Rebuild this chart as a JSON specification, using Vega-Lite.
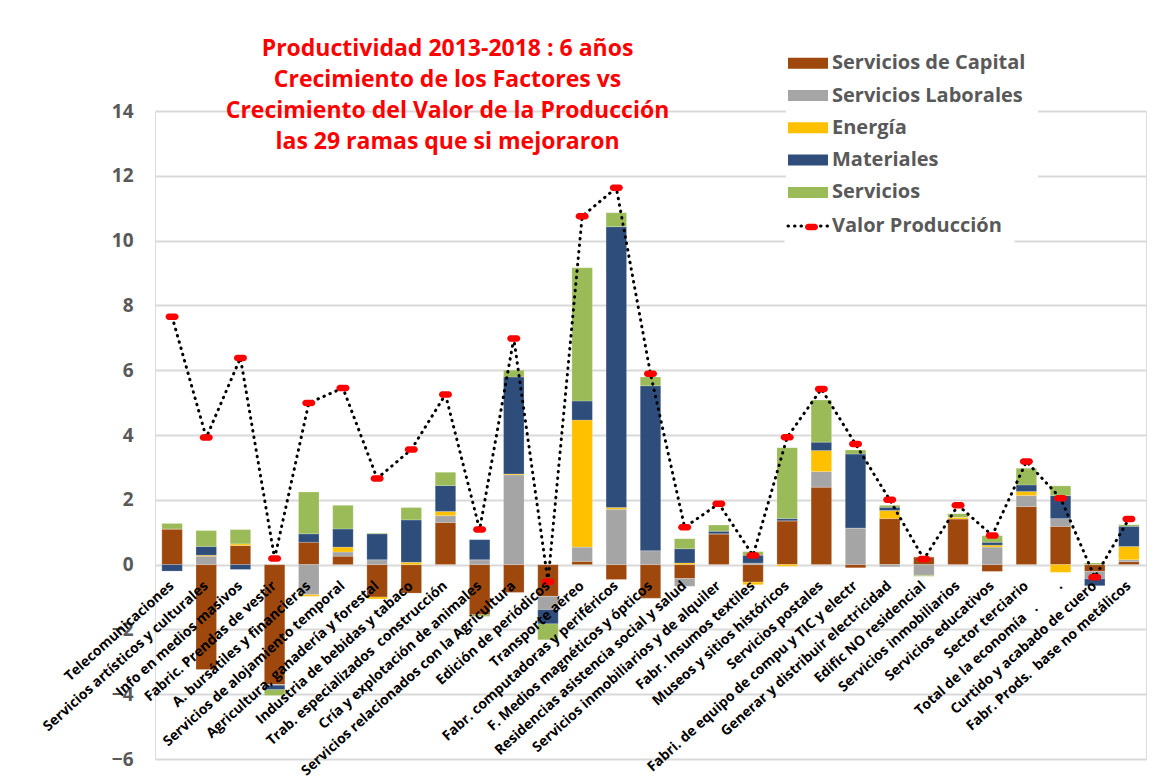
{
  "$schema": "https://vega.github.io/schema/vega-lite/v6.json",
  "width": 991,
  "height": 648,
  "autosize": {"type": "none"},
  "padding": {"left": 155, "top": 111, "right": 10, "bottom": 20},
  "background": "white",
  "title": {
    "text": ["Productividad 2013-2018 : 6 años", "Crecimiento de los Factores vs", "Crecimiento del Valor de la Producción", "las 29 ramas que si mejoraron"],
    "color": "#FF0000",
    "font": "Open Sans",
    "fontSize": 23,
    "fontWeight": "bold",
    "lineHeight": 31,
    "anchor": "middle",
    "dx": -203,
    "dy": 113,
    "offset": 0
  },
  "data": {
    "values": [
      {"rama": "Telecomunicaciones", "Servicios de Capital": 1.10, "Servicios Laborales": 0, "Energía": 0, "Materiales": -0.20, "Servicios": 0.17, "vp": 7.65},
      {"rama": "Servicios artísticos y culturales", "Servicios de Capital": -3.24, "Servicios Laborales": 0.26, "Energía": 0.03, "Materiales": 0.27, "Servicios": 0.49, "vp": 3.92},
      {"rama": "Info en medios masivos", "Servicios de Capital": 0.59, "Servicios Laborales": 0, "Energía": 0.05, "Materiales": -0.15, "Servicios": 0.44, "vp": 6.38},
      {"rama": "Fabric. Prendas de vestir", "Servicios de Capital": -3.70, "Servicios Laborales": -0.02, "Energía": 0, "Materiales": -0.14, "Servicios": -0.18, "vp": 0.19},
      {"rama": "A. bursátiles y financieras", "Servicios de Capital": 0.69, "Servicios Laborales": -0.93, "Energía": -0.05, "Materiales": 0.26, "Servicios": 1.29, "vp": 4.99},
      {"rama": "Servicios de alojamiento temporal", "Servicios de Capital": 0.26, "Servicios Laborales": 0.13, "Energía": 0.15, "Materiales": 0.56, "Servicios": 0.73, "vp": 5.45},
      {"rama": "Agricultura, ganadería y forestal", "Servicios de Capital": -1.00, "Servicios Laborales": 0.15, "Energía": -0.06, "Materiales": 0.80, "Servicios": 0.02, "vp": 2.66},
      {"rama": "Industria de bebidas y tabaco", "Servicios de Capital": -0.88, "Servicios Laborales": 0, "Energía": 0.07, "Materiales": 1.31, "Servicios": 0.38, "vp": 3.55},
      {"rama": "Trab. especializados \u00a0construcción", "Servicios de Capital": 1.30, "Servicios Laborales": 0.21, "Energía": 0.13, "Materiales": 0.80, "Servicios": 0.41, "vp": 5.25},
      {"rama": "Cría y explotación de animales", "Servicios de Capital": -1.55, "Servicios Laborales": 0.15, "Energía": 0, "Materiales": 0.62, "Servicios": -0.05, "vp": 1.08},
      {"rama": "Servicios relacionados con la Agricultura", "Servicios de Capital": -0.86, "Servicios Laborales": 2.77, "Energía": 0.03, "Materiales": 2.99, "Servicios": 0.21, "vp": 6.98},
      {"rama": "Edición de periódicos", "Servicios de Capital": -0.98, "Servicios Laborales": -0.41, "Energía": 0, "Materiales": -0.44, "Servicios": -0.49, "vp": -0.53},
      {"rama": "Transporte aéreo", "Servicios de Capital": 0.10, "Servicios Laborales": 0.44, "Energía": 3.92, "Materiales": 0.59, "Servicios": 4.11, "vp": 10.75},
      {"rama": "Fabr. computadoras y periféricos", "Servicios de Capital": -0.46, "Servicios Laborales": 1.71, "Energía": 0.05, "Materiales": 8.67, "Servicios": 0.43, "vp": 11.63},
      {"rama": "F. Medios magnéticos y ópticos", "Servicios de Capital": -1.04, "Servicios Laborales": 0.43, "Energía": 0, "Materiales": 5.09, "Servicios": 0.27, "vp": 5.89},
      {"rama": "Residencias asistencia social y salud", "Servicios de Capital": -0.43, "Servicios Laborales": -0.24, "Energía": 0.05, "Materiales": 0.44, "Servicios": 0.31, "vp": 1.15},
      {"rama": "Servicios inmobiliarios y de alquiler", "Servicios de Capital": 0.95, "Servicios Laborales": 0, "Energía": 0, "Materiales": 0.08, "Servicios": 0.19, "vp": 1.88},
      {"rama": "Fabr. Insumos textiles", "Servicios de Capital": -0.54, "Servicios Laborales": 0.05, "Energía": -0.08, "Materiales": 0.24, "Servicios": 0.11, "vp": 0.28},
      {"rama": "Museos y sitios históricos", "Servicios de Capital": 1.35, "Servicios Laborales": 0, "Energía": -0.05, "Materiales": 0.07, "Servicios": 2.19, "vp": 3.93},
      {"rama": "Servicios postales", "Servicios de Capital": 2.39, "Servicios Laborales": 0.48, "Energía": 0.65, "Materiales": 0.26, "Servicios": 1.30, "vp": 5.42},
      {"rama": "Fabri. de equipo de compu y TIC y electr", "Servicios de Capital": -0.10, "Servicios Laborales": 1.13, "Energía": 0, "Materiales": 2.28, "Servicios": 0.13, "vp": 3.72},
      {"rama": "Generar y distribuir electricidad", "Servicios de Capital": 1.42, "Servicios Laborales": -0.07, "Energía": 0.25, "Materiales": 0.10, "Servicios": 0.06, "vp": 2.00},
      {"rama": "Edific NO residencial", "Servicios de Capital": 0.24, "Servicios Laborales": -0.33, "Energía": 0, "Materiales": 0, "Servicios": -0.03, "vp": 0.17},
      {"rama": "Servicios inmobiliarios", "Servicios de Capital": 1.41, "Servicios Laborales": 0, "Energía": 0.05, "Materiales": 0, "Servicios": 0.11, "vp": 1.83},
      {"rama": "Servicios educativos", "Servicios de Capital": -0.21, "Servicios Laborales": 0.54, "Energía": 0.06, "Materiales": 0.09, "Servicios": 0.20, "vp": 0.90},
      {"rama": "Sector terciario", "Servicios de Capital": 1.79, "Servicios Laborales": 0.34, "Energía": 0.13, "Materiales": 0.20, "Servicios": 0.51, "vp": 3.18},
      {"rama": "Total de la economía\u00a0\u00a0\u00a0.\u00a0\u00a0\u00a0\u00a0\u00a0\u00a0\u00a0\u00a0.", "Servicios de Capital": 1.18, "Servicios Laborales": 0.24, "Energía": -0.24, "Materiales": 0.71, "Servicios": 0.30, "vp": 2.05},
      {"rama": "Curtido y acabado de cuero", "Servicios de Capital": -0.21, "Servicios Laborales": -0.23, "Energía": 0, "Materiales": -0.21, "Servicios": 0.05, "vp": -0.39},
      {"rama": "Fabr. Prods. \u00a0base no metálicos", "Servicios de Capital": 0.09, "Servicios Laborales": 0.06, "Energía": 0.41, "Materiales": 0.62, "Servicios": 0.05, "vp": 1.41}
    ]
  },
  "encoding": {
    "x": {
      "field": "rama",
      "type": "nominal",
      "sort": null,
      "scale": {"paddingInner": 0.4, "paddingOuter": 0.2},
      "axis": {
        "title": null,
        "orient": "bottom",
        "offset": -194.4,
        "zindex": 1,
        "domain": false,
        "ticks": false,
        "grid": false,
        "labelAngle": -42,
        "labelAlign": "right",
        "labelBaseline": "middle",
        "labelPadding": 19,
        "labelFont": "Open Sans",
        "labelFontSize": 14,
        "labelFontWeight": "bold",
        "labelColor": "#000000",
        "labelLimit": 0,
        "labelOverlap": false,
        "labelBound": false
      }
    }
  },
  "layer": [
    {
      "transform": [
        {"fold": ["Servicios de Capital", "Servicios Laborales", "Energía", "Materiales", "Servicios"], "as": ["comp", "val"]},
        {"calculate": "indexof(['Servicios de Capital','Servicios Laborales','Energía','Materiales','Servicios'], datum.comp)", "as": "ord"}
      ],
      "mark": {"type": "bar", "stroke": "#ffffff", "strokeWidth": 0.4, "strokeOpacity": 0.5},
      "encoding": {
        "y": {
          "field": "val",
          "type": "quantitative",
          "stack": "zero",
          "scale": {"domain": [-6, 14], "nice": false, "zero": false},
          "axis": {
            "title": null,
            "values": [-6, -4, -2, 0, 2, 4, 6, 8, 10, 12, 14],
            "domain": false,
            "ticks": false,
            "grid": true,
            "gridColor": "#D9D9D9",
            "gridWidth": 2,
            "labelFont": "Open Sans",
            "labelFontSize": 19,
            "labelFontWeight": "bold",
            "labelColor": "#595959",
            "labelPadding": 22
          }
        },
        "order": {"field": "ord", "type": "quantitative", "sort": "ascending"},
        "color": {
          "field": "comp",
          "type": "nominal",
          "sort": ["Servicios de Capital", "Servicios Laborales", "Energía", "Materiales", "Servicios"],
          "scale": {
            "domain": ["Servicios de Capital", "Servicios Laborales", "Energía", "Materiales", "Servicios"],
            "range": ["#9E480E", "#A5A5A5", "#FFC000", "#2E4D7B", "#9BBB59"]
          },
          "legend": {
            "title": null,
            "orient": "none",
            "legendX": 631,
            "legendY": -69.8,
            "padding": 12,
            "fillColor": "white",
            "symbolType": "M-2,-0.55H2V0.55H-2Z",
            "symbolSize": 400,
            "symbolStrokeWidth": 0,
            "labelFont": "Open Sans",
            "labelFontSize": 20,
            "labelFontWeight": "bold",
            "labelColor": "#595959",
            "labelOffset": 14,
            "labelLimit": 400,
            "rowPadding": 12.3
          }
        }
      }
    },
    {
      "mark": {"type": "line", "strokeDash": [0.5, 6], "strokeWidth": 3, "strokeCap": "round"},
      "encoding": {
        "y": {"field": "vp", "type": "quantitative", "title": null},
        "stroke": {
          "datum": "Valor Producción",
          "scale": {"range": ["#000000"]},
          "legend": {
            "title": null,
            "orient": "none",
            "legendX": 629.5,
            "legendY": 91.5,
            "padding": 12,
            "fillColor": "white",
            "symbolType": "M-2,0H2",
            "symbolSize": 400,
            "symbolStrokeWidth": 3,
            "symbolDash": [0.5, 6],
            "labelFont": "Open Sans",
            "labelFontSize": 20,
            "labelFontWeight": "bold",
            "labelColor": "#595959",
            "labelOffset": 12.5,
            "labelLimit": 400,
            "encode": {"symbols": {"update": {"strokeCap": {"value": "round"}}}}
          }
        }
      }
    },
    {
      "mark": {"type": "point", "filled": true, "size": 169, "color": "#FF0000", "opacity": 1},
      "encoding": {
        "y": {"field": "vp", "type": "quantitative", "title": null},
        "shape": {
          "datum": "vp",
          "scale": {"range": ["M-0.5,-0.5H0.5A0.5,0.5 0 0 1 0.5,0.5H-0.5A0.5,0.5 0 0 1 -0.5,-0.5Z"]},
          "legend": {
            "title": null,
            "orient": "none",
            "legendX": 634.5,
            "legendY": 94,
            "padding": 12,
            "symbolSize": 169,
            "symbolFillColor": "#FF0000",
            "symbolStrokeWidth": 0,
            "labelExpr": "''",
            "labelFontSize": 20
          }
        }
      }
    }
  ]
}
